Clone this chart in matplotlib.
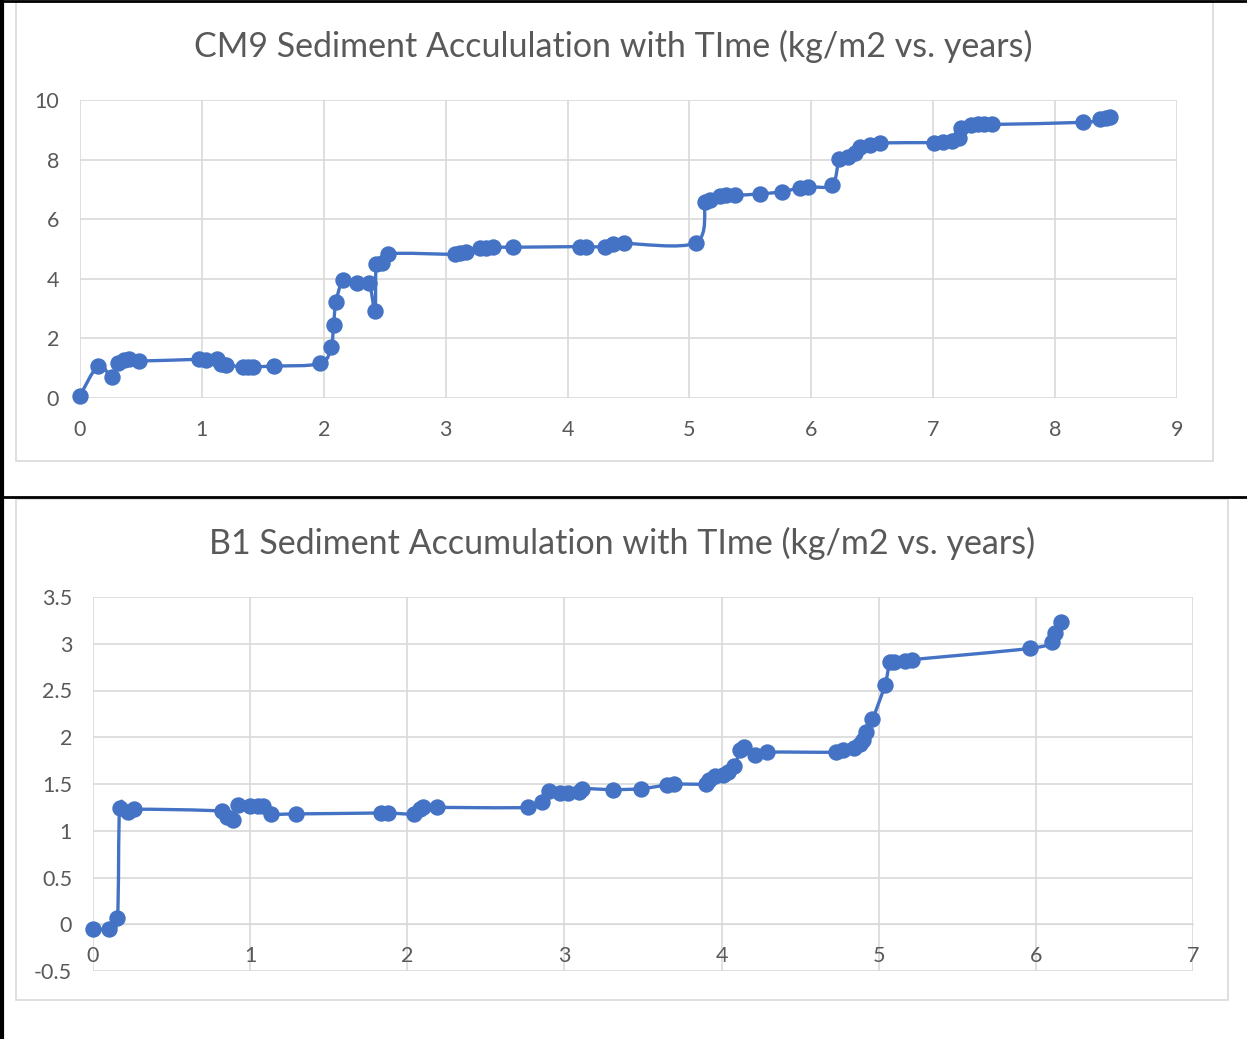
import numpy as np
import matplotlib
matplotlib.use("Agg")
import matplotlib.pyplot as plt
from matplotlib.path import Path
from matplotlib.patches import PathPatch, Rectangle
from matplotlib.lines import Line2D

plt.rcParams['font.family'] = ['Lato', 'DejaVu Sans']

# CM9 core: years vs. accumulated sediment (kg/m2)
cm9_years = [0.00, 0.15, 0.26, 0.31, 0.36, 0.40, 0.48,
             0.98, 1.03, 1.12, 1.16, 1.20, 1.34, 1.38, 1.42, 1.59,
             1.97, 2.06, 2.08, 2.10, 2.16, 2.27, 2.37, 2.42, 2.43, 2.48, 2.53,
             3.08, 3.12, 3.17, 3.28, 3.33, 3.39, 3.55,
             4.10, 4.15, 4.31, 4.37, 4.46,
             5.05, 5.13, 5.17, 5.25, 5.30, 5.37, 5.58, 5.76, 5.91, 5.97, 6.17,
             6.23, 6.30, 6.36, 6.40, 6.48, 6.56,
             7.01, 7.08, 7.15, 7.21, 7.23, 7.31, 7.37, 7.42, 7.48,
             8.23, 8.37, 8.42, 8.45]
cm9_mass = [0.08, 1.08, 0.72, 1.17, 1.28, 1.30, 1.24,
            1.30, 1.28, 1.32, 1.15, 1.10, 1.05, 1.05, 1.05, 1.07,
            1.16, 1.72, 2.44, 3.21, 3.97, 3.85, 3.86, 2.92, 4.48, 4.52, 4.84,
            4.82, 4.86, 4.90, 5.02, 5.04, 5.06, 5.06,
            5.08, 5.08, 5.08, 5.18, 5.19,
            5.21, 6.59, 6.66, 6.78, 6.82, 6.80, 6.85, 6.92, 7.06, 7.09, 7.15,
            8.02, 8.10, 8.22, 8.43, 8.49, 8.56,
            8.57, 8.60, 8.61, 8.74, 9.05, 9.16, 9.18, 9.18, 9.18,
            9.25, 9.35, 9.41, 9.42]

# B1 core
b1_years = [0.00, 0.10, 0.155, 0.17, 0.22, 0.26,
            0.82, 0.85, 0.89, 0.92, 1.00, 1.05, 1.08, 1.13, 1.29,
            1.83, 1.88, 2.04, 2.08, 2.10, 2.19,
            2.77, 2.86, 2.90, 2.97, 3.02, 3.09, 3.11, 3.31, 3.49, 3.65, 3.70,
            3.90, 3.92, 3.96, 4.01, 4.04, 4.08, 4.12, 4.14, 4.21, 4.29,
            4.73, 4.77, 4.84, 4.88, 4.90, 4.92, 4.96,
            5.04, 5.07, 5.10, 5.17, 5.21,
            5.96, 6.10, 6.12, 6.16]
b1_mass = [-0.05, -0.05, 0.07, 1.24, 1.20, 1.23,
           1.21, 1.15, 1.12, 1.28, 1.26, 1.27, 1.26, 1.18, 1.18,
           1.19, 1.19, 1.18, 1.23, 1.25, 1.25,
           1.25, 1.31, 1.43, 1.40, 1.40, 1.41, 1.45, 1.44, 1.45, 1.49, 1.50,
           1.50, 1.54, 1.59, 1.60, 1.63, 1.69, 1.86, 1.90, 1.81, 1.84,
           1.84, 1.86, 1.88, 1.93, 1.97, 2.06, 2.19,
           2.56, 2.80, 2.80, 2.82, 2.83,
           2.95, 3.02, 3.11, 3.23]

BLUE = '#4472C4'
GRID = '#d9d9d9'
TEXT = '#595959'
W, H = 1247, 1039


def box(left, top, right, bottom):
    # pixel box -> figure fraction [l, b, w, h]
    return [left / W, 1 - bottom / H, (right - left) / W, (bottom - top) / H]


def smooth_path(x, y):
    # Bezier smoothing through every point (Catmull-Rom style)
    pts = np.column_stack([x, y])
    p = np.vstack([pts[0], pts, pts[-1]])
    verts = [pts[0]]
    codes = [Path.MOVETO]
    for i in range(1, len(p) - 2):
        c1 = p[i] + (p[i + 1] - p[i - 1]) / 6
        c2 = p[i + 1] - (p[i + 2] - p[i]) / 6
        verts += [c1, c2, p[i + 1]]
        codes += [Path.CURVE4] * 3
    return Path(verts, codes)


def draw_chart(ax, x, y, title, xmax, yticks, ylabels, title_xy):
    ax.set_xlim(0, xmax)
    ax.set_ylim(yticks[0], yticks[-1])
    ax.set_xticks(range(xmax + 1))
    ax.set_yticks(yticks)
    ax.set_yticklabels(ylabels)
    ax.grid(True, color=GRID, lw=1.2)
    ax.set_axisbelow(True)
    for s in ax.spines.values():
        s.set_visible(False)
    ax.tick_params(length=0, labelsize=15.5, labelcolor=TEXT)
    ax.tick_params(axis='x', pad=16)
    ax.tick_params(axis='y', pad=15)
    ax.add_patch(PathPatch(smooth_path(x, y), fill=False, edgecolor=BLUE,
                           lw=2.4, zorder=3, clip_on=False))
    ax.plot(x, y, 'o', ms=10.8, color=BLUE, zorder=4, clip_on=False)
    fig.text(title_xy[0] / W, 1 - title_xy[1] / H, title, ha='center',
             va='center', fontsize=24.5, color=TEXT)


fig = plt.figure(figsize=(W / 100, H / 100), dpi=100, facecolor='white')

# chart frames
for l, t, r, b in [(16, 2, 1213, 461), (16, 499, 1228, 1000)]:
    fig.patches.append(Rectangle((l / W, 1 - b / H), (r - l) / W, (b - t) / H,
                                 transform=fig.transFigure, fill=False,
                                 edgecolor=GRID, lw=1.2))

ax1 = fig.add_axes(box(80, 100, 1177, 398))
draw_chart(ax1, cm9_years, cm9_mass,
           'CM9 Sediment Accululation with TIme (kg/m2 vs. years)',
           9, [0, 2, 4, 6, 8, 10], ['0', '2', '4', '6', '8', '10'], (613, 46))

ax2 = fig.add_axes(box(93, 597, 1193, 971))
draw_chart(ax2, b1_years, b1_mass,
           'B1 Sediment Accumulation with TIme (kg/m2 vs. years)',
           7, [-0.5, 0, 0.5, 1, 1.5, 2, 2.5, 3, 3.5],
           ['-0.5', '0', '0.5', '1', '1.5', '2', '2.5', '3', '3.5'], (622, 543))
# x axis crosses at zero
ax2.spines['bottom'].set_visible(True)
ax2.spines['bottom'].set_position(('data', 0))
ax2.spines['bottom'].set_color(GRID)

# table borders
for xs, ys, lw in [([2, 2], [0, H], 3), ([0, W], [1, 1], 2), ([0, W], [497, 497], 2)]:
    fig.add_artist(Line2D([v / W for v in xs], [1 - v / H for v in ys],
                          transform=fig.transFigure, color='black', lw=lw))

fig.savefig('out.png', dpi=100, facecolor='white')
